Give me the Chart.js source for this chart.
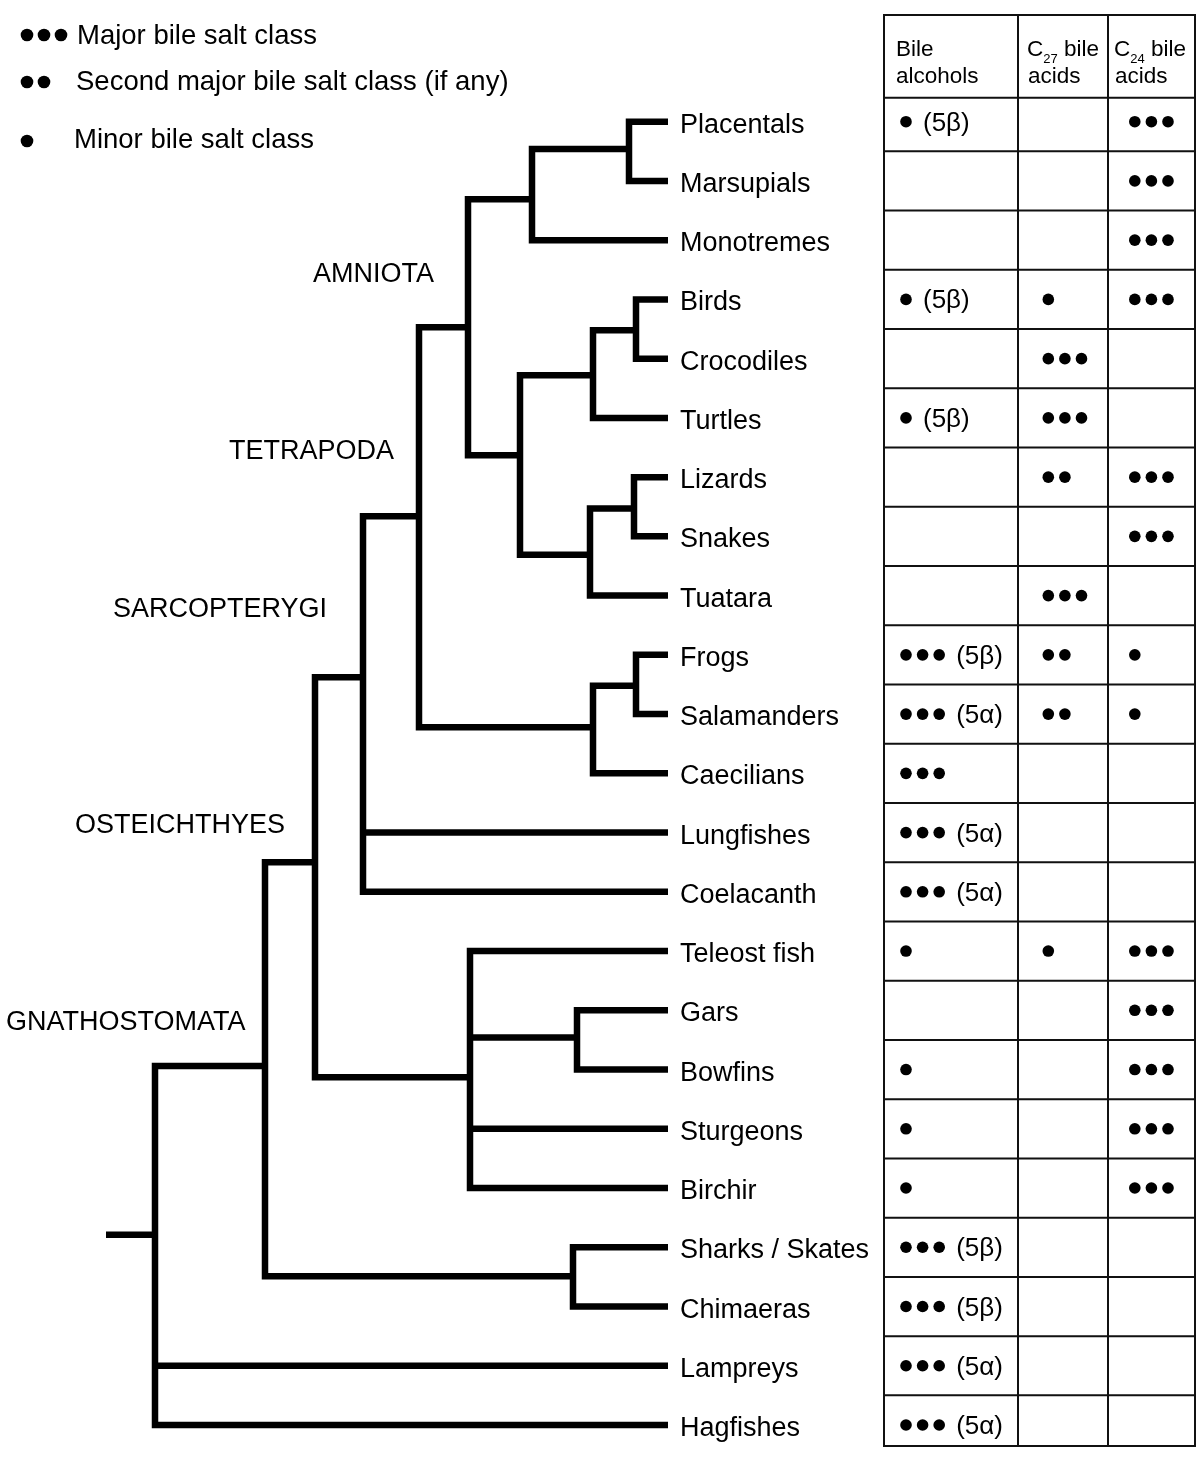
<!DOCTYPE html>
<html>
<head>
<meta charset="utf-8">
<script src="https://cdn.jsdelivr.net/npm/chart.js@4.4.0/dist/chart.umd.min.js"></script>
<style>
  html, body { margin: 0; padding: 0; background: #fff; }
  #wrap { position: relative; width: 1200px; height: 1460px; }
</style>
</head>
<body>
<div id="wrap"><canvas id="tree"></canvas></div>
<script>
// Taxa from top to bottom (the row of each taxon is its index)
const taxa = ['Placentals', 'Marsupials', 'Monotremes', 'Birds', 'Crocodiles', 'Turtles',
  'Lizards', 'Snakes', 'Tuatara', 'Frogs', 'Salamanders', 'Caecilians', 'Lungfishes',
  'Coelacanth', 'Teleost fish', 'Gars', 'Bowfins', 'Sturgeons', 'Birchir',
  'Sharks / Skates', 'Chimaeras', 'Lampreys', 'Hagfishes'];
const tipParent = ['Theria', 'Theria', 'Mammalia', 'Archosauria', 'Archosauria', 'Archelosauria',
  'Squamata', 'Squamata', 'Lepidosauria', 'Batrachia', 'Batrachia', 'Amphibia', 'Sarcopterygii',
  'Sarcopterygii', 'Actinopterygii', 'Holostei', 'Holostei', 'Actinopterygii', 'Actinopterygii',
  'Chondrichthyes', 'Chondrichthyes', 'Root', 'Root'];
const tipDepth = 668;

// Internal nodes: depth = horizontal position on the tree axis, row = vertical position
const nodeNames = ['Theria', 'Mammalia', 'Archosauria', 'Archelosauria', 'Squamata', 'Lepidosauria',
  'Sauropsida', 'Amniota', 'Batrachia', 'Amphibia', 'Tetrapoda', 'Sarcopterygii', 'Holostei',
  'Actinopterygii', 'Osteichthyes', 'Chondrichthyes', 'Gnathostomata', 'Root'];
const nodeParent = ['Mammalia', 'Amniota', 'Archelosauria', 'Sauropsida', 'Lepidosauria', 'Sauropsida',
  'Amniota', 'Tetrapoda', 'Amphibia', 'Tetrapoda', 'Sarcopterygii', 'Osteichthyes', 'Actinopterygii',
  'Osteichthyes', 'Gnathostomata', 'Gnathostomata', 'Root', null];
const nodeDepth = [629, 532, 636, 593, 634, 590, 520, 468, 636, 593, 419, 363, 577, 470, 315, 573, 265, 155];
const nodeRow = [0.46, 1.31, 3.52, 4.28, 6.53, 7.31, 5.63, 3.47, 9.52, 10.22, 6.66, 9.38, 15.46,
  16.13, 12.5, 19.49, 15.94, 18.79];
const rootStubDepth = 106;

// Clade names written beside the tree
const cladeLabels = ['AMNIOTA', 'TETRAPODA', 'SARCOPTERYGI', 'OSTEICHTHYES', 'GNATHOSTOMATA'];
const cladeLabelDepth = [313, 229, 113, 75, 6];
const cladeLabelRow = [2.71, 5.70, 8.36, 12.01, 15.34];

// Bile salt table: number of dots per cell (3 = major, 2 = second major, 1 = minor)
const bileAlcohols = [1, 0, 0, 1, 0, 1, 0, 0, 0, 3, 3, 3, 3, 3, 1, 0, 1, 1, 1, 3, 3, 3, 3];
const bileAlcoholForm = ['5β', '', '', '5β', '', '5β', '', '', '', '5β', '5α', '', '5α', '5α',
  '', '', '', '', '', '5β', '5β', '5α', '5α'];
const c27Acids = [0, 0, 0, 1, 3, 3, 2, 0, 3, 2, 2, 0, 0, 0, 1, 0, 0, 0, 0, 0, 0, 0, 0];
const c24Acids = [3, 3, 3, 3, 0, 0, 3, 3, 0, 1, 1, 0, 0, 0, 3, 3, 3, 3, 3, 0, 0, 0, 0];

const legendItems = ['Major bile salt class', 'Second major bile salt class (if any)', 'Minor bile salt class'];
const legendDots = [3, 2, 1];

// layout of the table (x in tree-axis units, y in row units)
const table = {
  colEdges: [884, 1018, 1108, 1195],
  firstDot: [906, 1048.3, 1134.8],
  dotStep: 16.6,
  top: -1.80,
  headerBottom: -0.405,
  bottom: 22.354
};

const FONT = '"Liberation Sans", Arial, Helvetica, sans-serif';

// build the branches: one bracket per internal node
const datasets = [];
nodeNames.forEach((name, n) => {
  const kids = [];
  taxa.forEach((t, i) => { if (tipParent[i] === name) kids.push({ x: tipDepth, y: i }); });
  nodeNames.forEach((m, j) => { if (nodeParent[j] === name) kids.push({ x: nodeDepth[j], y: nodeRow[j] }); });
  kids.sort((a, b) => a.y - b.y);
  const px = nodeDepth[n];
  const first = kids[0], last = kids[kids.length - 1];
  datasets.push({
    data: [first, { x: px, y: first.y }, { x: px, y: last.y }, last]
  });
  kids.slice(1, -1).forEach(k => datasets.push({ data: [{ x: px, y: k.y }, k] }));
  if (nodeParent[n] === null) {
    datasets.push({ data: [{ x: rootStubDepth, y: nodeRow[n] }, { x: px, y: nodeRow[n] }] });
  }
});
datasets.forEach(d => Object.assign(d, {
  borderColor: '#000', borderWidth: 6.5, pointRadius: 0, tension: 0,
  borderJoinStyle: 'miter', borderCapStyle: 'butt', fill: false
}));

// table dots
const dots = [];
[bileAlcohols, c27Acids, c24Acids].forEach((col, c) => {
  col.forEach((count, row) => {
    for (let k = 0; k < count; k++) dots.push({ x: table.firstDot[c] + k * table.dotStep, y: row });
  });
});
datasets.push({
  data: dots, showLine: false, pointRadius: 5.8, pointHoverRadius: 5.8,
  pointBackgroundColor: '#000', pointBorderWidth: 0, borderColor: '#000'
});

const annotate = {
  id: 'annotate',
  beforeDatasetsDraw(chart) {
    const { ctx, scales: { x, y } } = chart;
    ctx.save();
    ctx.strokeStyle = '#111';
    ctx.lineWidth = 2;
    const top = y.getPixelForValue(table.top);
    const bottom = y.getPixelForValue(table.bottom);
    const left = x.getPixelForValue(table.colEdges[0]);
    const right = x.getPixelForValue(table.colEdges[table.colEdges.length - 1]);
    ctx.beginPath();
    table.colEdges.forEach(e => {
      const px = x.getPixelForValue(e);
      ctx.moveTo(px, top); ctx.lineTo(px, bottom);
    });
    const rules = [table.top, table.headerBottom];
    for (let i = 0; i < taxa.length - 1; i++) rules.push(i + 0.5);
    rules.push(table.bottom);
    rules.forEach(r => {
      const py = y.getPixelForValue(r);
      ctx.moveTo(left - 1, py); ctx.lineTo(right + 1, py);
    });
    ctx.stroke();
    ctx.restore();
  },
  afterDatasetsDraw(chart) {
    const { ctx, chartArea, scales: { x, y } } = chart;
    ctx.save();
    ctx.fillStyle = '#000';
    ctx.textBaseline = 'alphabetic';

    // taxon names
    ctx.font = '27px ' + FONT;
    taxa.forEach((t, i) => ctx.fillText(t, x.getPixelForValue(tipDepth) + 12, y.getPixelForValue(i) + 11));

    // clade names
    cladeLabels.forEach((t, i) => ctx.fillText(t, x.getPixelForValue(cladeLabelDepth[i]), y.getPixelForValue(cladeLabelRow[i])));

    // 5α / 5β after the bile alcohol dots
    ctx.font = '26px ' + FONT;
    bileAlcoholForm.forEach((f, i) => {
      if (!f) return;
      const lastDot = table.firstDot[0] + (bileAlcohols[i] - 1) * table.dotStep;
      ctx.fillText('(' + f + ')', x.getPixelForValue(lastDot) + 17, y.getPixelForValue(i) + 9);
    });

    // table header
    const top = y.getPixelForValue(table.top);
    const col = c => x.getPixelForValue(table.colEdges[c]);
    ctx.font = '22.5px ' + FONT;
    ctx.fillText('Bile', col(0) + 12, top + 41);
    ctx.fillText('alcohols', col(0) + 12, top + 68);
    [['27', 1, 9], ['24', 2, 6]].forEach(([sub, c, off]) => {
      let cx = col(c) + off;
      ctx.font = '22.5px ' + FONT;
      ctx.fillText('C', cx, top + 41);
      cx += ctx.measureText('C').width;
      ctx.font = '13px ' + FONT;
      ctx.fillText(sub, cx, top + 48);
      cx += ctx.measureText(sub).width;
      ctx.font = '22.5px ' + FONT;
      ctx.fillText(' bile', cx, top + 41);
      ctx.fillText('acids', col(c) + off + 1, top + 68);
    });

    // legend (top left)
    const lx = chartArea.left, ly = chartArea.top;
    const legendY = [35, 82, 141];
    const legendBase = [43.5, 90, 148];
    const legendText = [77, 76, 74];
    legendItems.forEach((t, i) => {
      for (let k = 0; k < legendDots[i]; k++) {
        ctx.beginPath();
        ctx.arc(lx + 27 + k * 17, ly + legendY[i], 6.3, 0, Math.PI * 2);
        ctx.fill();
      }
      ctx.font = '27.5px ' + FONT;
      ctx.fillText(t, lx + legendText[i], ly + legendBase[i]);
    });
    ctx.restore();
  }
};

new Chart(document.getElementById('tree'), {
  type: 'line',
  data: { datasets },
  options: {
    responsive: true,
    maintainAspectRatio: false,
    animation: false,
    events: [],
    layout: { padding: 0, autoPadding: false },
    plugins: { legend: { display: false }, tooltip: { enabled: false } },
    scales: {
      x: { type: 'linear', min: 0, max: 1200, display: false },
      y: { type: 'linear', min: -2.054, max: 22.591, reverse: true, display: false }
    }
  },
  plugins: [annotate]
});
</script>
</body>
</html>
